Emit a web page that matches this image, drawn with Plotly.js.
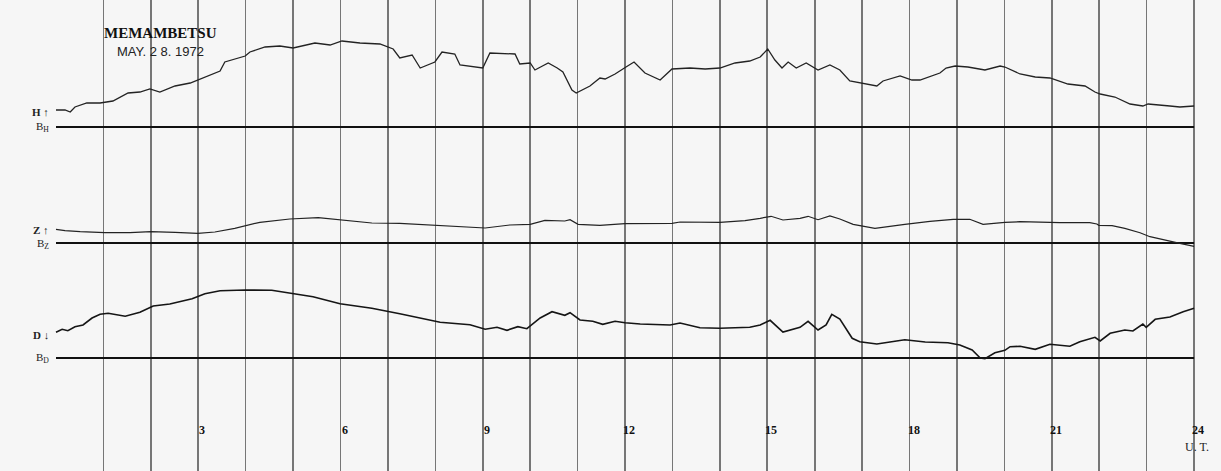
<!DOCTYPE html>
<html>
<head>
<meta charset="utf-8">
<script src="https://cdn.plot.ly/plotly-3.0.1.min.js"></script>
<style>html,body{margin:0;padding:0;background:#f6f6f6;}#chart{width:1221px;height:471px;}</style>
</head>
<body>
<div id="chart"></div>
<script>
// Universal time (hours) and trace deflections above each baseline (chart units)
const hoursH = [0,0.19,0.30,0.40,0.65,0.93,1.20,1.52,1.77,1.98,2.19,2.51,2.83,3.04,3.46,3.56,3.99,4.09,4.41,4.72,5.00,5.46,5.78,6.03,6.41,6.83,7.11,7.25,7.51,7.68,7.99,8.14,8.41,8.52,8.94,9.00,9.15,9.68,9.78,10.00,10.10,10.38,10.57,10.69,10.88,10.97,11.26,11.47,11.58,11.79,12.02,12.19,12.42,12.74,12.99,13.37,13.69,14.00,14.32,14.63,14.85,15.01,15.16,15.31,15.44,15.61,15.82,16.07,16.32,16.53,16.74,17.06,17.31,17.44,17.80,18.05,18.22,18.64,18.77,18.96,19.23,19.59,19.91,20.01,20.33,20.65,20.96,21.34,21.70,21.91,22.02,22.33,22.65,22.92,23.03,23.49,23.70,24.00];
const valuesH = [17,17,15,20,24,24,26,34,35,38,35,41,44,48,56,65,71,75,80,81,79,84,82,86,84,83,78,69,72,59,65,75,73,62,59,59,74,73,63,64,57,64,59,55,37,34,41,49,48,53,60,65,54,47,58,59,58,59,64,66,70,78,67,59,65,59,64,57,62,57,46,43,41,46,51,47,47,54,59,61,60,57,61,60,53,50,49,43,41,35,33,30,23,21,23,21,20,21];

const hoursZ = [0,0.19,0.51,1.03,1.56,2.00,2.51,2.99,3.35,3.77,4.30,4.93,5.53,5.99,6.66,7.25,7.99,8.73,9.05,9.57,10.00,10.31,10.73,10.84,11.01,11.47,12.00,12.99,13.16,14.00,14.53,14.85,15.08,15.33,15.69,15.86,16.07,16.32,16.53,16.81,17.27,17.90,18.43,18.92,19.27,19.55,20.01,20.33,20.75,21.17,21.80,21.95,21.99,22.27,22.54,22.86,23.07,23.39,23.70,24.00];
const valuesZ = [13.7,12.3,11.3,10.3,10.3,11.3,10.7,9.7,11,14.7,20.7,24,25.3,23.3,20,19.7,17.7,15.3,15,18,18.7,22.7,22,23.3,18.7,17.7,19.3,19.7,21,20.7,22.3,24.7,26.7,23,24.7,26.7,23.3,27,24,18.7,14.7,18.7,21.7,23.7,23.7,18.7,20.7,21.3,20.7,20.3,20.3,19,17.7,17.3,14.7,10.3,6.3,3.3,-0.3,-3.3];

const hoursD = [0,0.13,0.25,0.40,0.57,0.76,0.93,1.10,1.46,1.77,2.05,2.40,2.87,3.14,3.46,3.99,4.55,5.00,5.42,5.99,6.66,7.25,7.78,8.10,8.73,9.05,9.30,9.51,9.74,9.93,10.21,10.46,10.73,10.84,11.05,11.32,11.53,11.79,12.00,12.32,12.95,13.16,13.58,14.00,14.63,14.85,15.06,15.33,15.69,15.86,16.07,16.24,16.36,16.53,16.79,16.95,17.31,17.90,18.33,18.81,19.06,19.32,19.49,19.59,19.80,20.01,20.12,20.33,20.65,20.96,21.38,21.59,21.91,22.02,22.23,22.54,22.71,22.92,22.99,23.18,23.49,23.77,24.00];
const valuesD = [25.7,28.7,27.3,31.3,33,40,43.7,44.7,41.7,45.7,52,54,59.3,64.3,67.3,68,67.7,64.3,61.3,54.3,49.7,44.3,39,35.7,33.3,28.7,30.7,27.7,31.3,29.3,40,46.3,42.7,45.3,38,36.7,33.7,36.7,35.3,34,33,35,30.3,29.7,30.7,33,37.7,26,30.7,36.7,28,33,43.7,39,19.7,16.3,14,18.3,16,15.3,13,8,0,-0.7,5.3,7.7,11.3,11.7,8.7,13.7,11.7,16.3,20.7,17,24.7,28,27,34,30.7,38.7,41,46.3,49.7];

const hourLines = [1,2,3,4,5,6,7,8,9,10,11,12,13,14,15,16,17,18,19,20,21,22,23,24];
const tickHours = [3,6,9,12,15,18,21,24];
const tickLabels = ['3','6','9','12','15','18','21','24'];
const baseHours = [0,24];

const W = 1221, Hh = 471;
const x0px = 56, pxPerHour = 47.42;
const xr = [-x0px / pxPerHour, (W - x0px) / pxPerHour];
// baseline pixel rows (from top)
const baseH = 127, baseZ = 243, baseD = 358;
function yr(b) { return [-(Hh - b), b]; }

const lineCol = '#232323';
const traces = [
  {x: baseHours, y: [0,0], yaxis: 'y', mode: 'lines', line: {color: '#111', width: 1.8}, hoverinfo: 'skip'},
  {x: baseHours, y: [0,0], yaxis: 'y2', mode: 'lines', line: {color: '#111', width: 1.8}, hoverinfo: 'skip'},
  {x: baseHours, y: [0,0], yaxis: 'y3', mode: 'lines', line: {color: '#111', width: 1.8}, hoverinfo: 'skip'},
  {x: hoursH, y: valuesH, yaxis: 'y', mode: 'lines', name: 'H', line: {color: lineCol, width: 1.3}},
  {x: hoursZ, y: valuesZ, yaxis: 'y2', mode: 'lines', name: 'Z', line: {color: lineCol, width: 1.2}},
  {x: hoursD, y: valuesD, yaxis: 'y3', mode: 'lines', name: 'D', line: {color: '#151515', width: 1.6}}
];

const serif = 'Liberation Serif, DejaVu Serif, serif';
const ann = [];
function px(x){ return x / W; }
function py(y){ return 1 - y / Hh; }
tickHours.forEach((h, i) => {
  ann.push({x: h, xref: 'x', y: py(430), yref: 'paper', text: '<b>' + tickLabels[i] + '</b>', showarrow: false,
    xshift: 4, font: {family: serif, size: 12, color: '#111'}, xanchor: 'center', yanchor: 'middle'});
});
ann.push({x: 24, xref: 'x', y: py(447), yref: 'paper', text: 'U. T.', showarrow: false, xshift: 3,
  font: {family: serif, size: 12, color: '#222'}, xanchor: 'center', yanchor: 'middle'});
ann.push({x: px(160), xref: 'paper', y: py(33), yref: 'paper', text: '<b>MEMAMBETSU</b>', showarrow: false,
  font: {family: serif, size: 15, color: '#111'}, xanchor: 'center', yanchor: 'middle'});
ann.push({x: px(160), xref: 'paper', y: py(52), yref: 'paper', text: 'MAY. 2 8. 1972', showarrow: false,
  font: {family: 'Liberation Sans Narrow, Liberation Sans, sans-serif', size: 13, color: '#222'}, xanchor: 'center', yanchor: 'middle'});
const sideLabels = [['<b>H</b> ↑', 112], ['B<sub>H</sub>', 127], ['<b>Z</b> ↑', 230], ['B<sub>Z</sub>', 244], ['<b>D</b> ↓', 335], ['B<sub>D</sub>', 358]];
sideLabels.forEach(s => {
  ann.push({x: px(51), xref: 'paper', y: py(s[1]), yref: 'paper', text: s[0], showarrow: false,
    font: {family: serif, size: 11, color: '#222'}, xanchor: 'right', yanchor: 'middle'});
});

const axY = (b) => ({range: yr(b), domain: [0,1], showgrid: false, zeroline: false, showticklabels: false, ticks: '', fixedrange: true});
const layout = {
  width: W, height: Hh,
  margin: {l: 0, r: 0, t: 0, b: 0},
  paper_bgcolor: '#f6f6f6', plot_bgcolor: '#f6f6f6',
  showlegend: false,
  xaxis: {range: xr, tickvals: hourLines, showgrid: true, gridcolor: '#767676', gridwidth: 1.6,
    showticklabels: false, ticks: '', zeroline: false, showline: false},
  yaxis: axY(baseH),
  yaxis2: Object.assign(axY(baseZ), {overlaying: 'y'}),
  yaxis3: Object.assign(axY(baseD), {overlaying: 'y'}),
  annotations: ann
};
Plotly.newPlot('chart', traces, layout, {staticPlot: true, displayModeBar: false});
</script>
</body>
</html>
